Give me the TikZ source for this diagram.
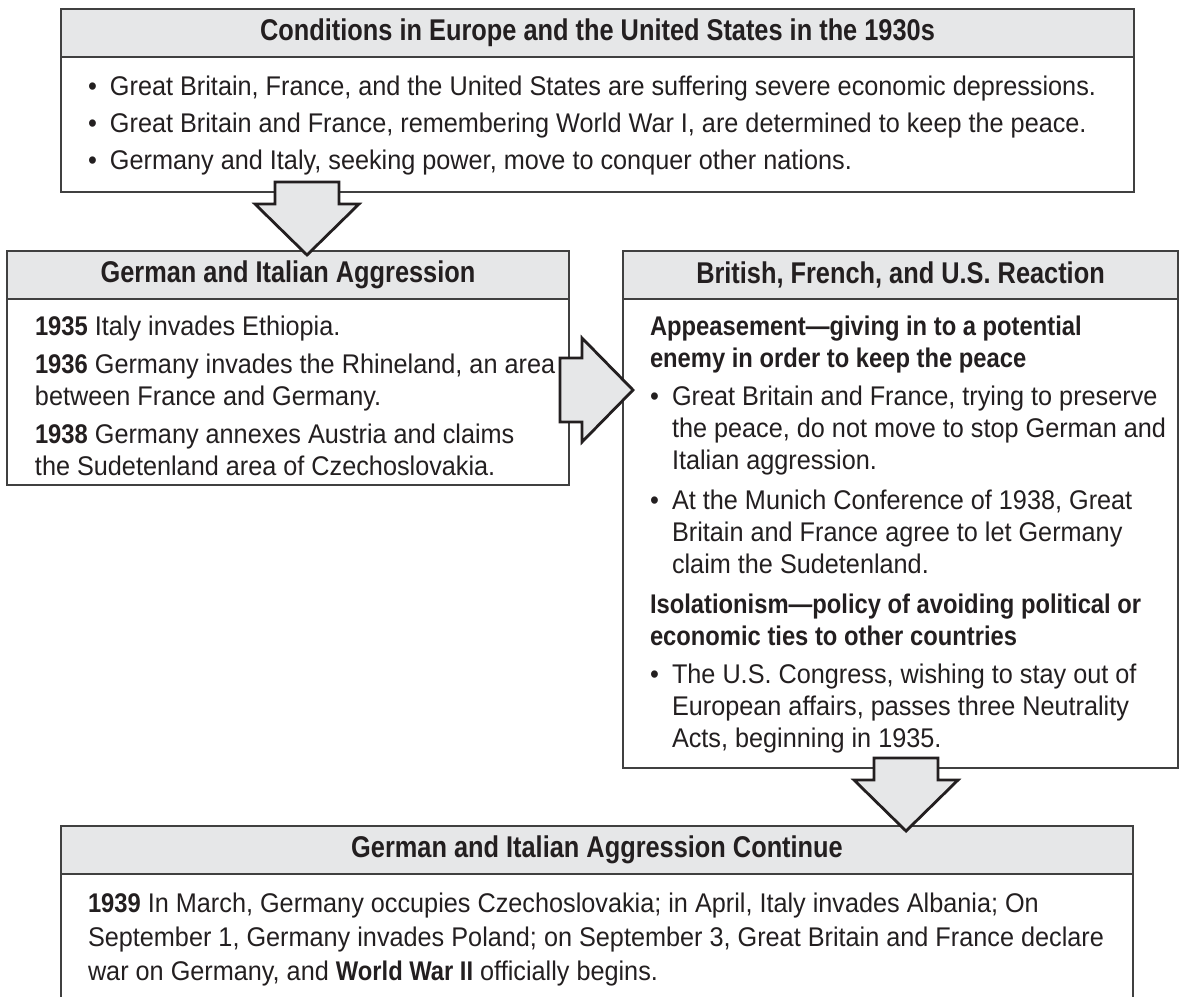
\documentclass[tikz,border=0pt]{standalone}
\usepackage{fontspec}
\setmainfont{Liberation Sans}[FakeStretch=0.935, BoldFeatures={FakeStretch=0.88}]
\newfontfamily\headfamily{Liberation Sans}[FakeStretch=0.845]
\usetikzlibrary{positioning}

\definecolor{headgray}{HTML}{E6E7E8}
\definecolor{linegray}{HTML}{404040}
\definecolor{inkblack}{HTML}{231F20}

\newcommand{\bodyfont}{\fontsize{13.5}{16}\selectfont}
\newcommand{\headfont}{\headfamily\fontsize{15}{17}\selectfont\bfseries}
\newcommand{\bulmark}{\makebox[11pt][l]{\textbullet}}
\newcommand{\bulind}{\hspace*{11pt}}

\begin{document}
\begin{tikzpicture}[
        x=0.5pt, y=0.5pt,
        every node/.style={inner sep=0pt, outer sep=0pt, text=inkblack},
        boxhead/.style={draw=linegray, line width=1pt, fill=headgray, minimum height=24pt, font=\headfont, anchor=north west},
        boxbody/.style={draw=linegray, line width=1pt, fill=white},
        boxtext/.style={align=left, font=\bodyfont},
        bigarrow/.pic={
            \draw[draw=inkblack, line width=1.4pt, fill=headgray, line join=miter]
                (0,32) -- (22,32) -- (22,52) -- (73,0) -- (22,-52) -- (22,-32) -- (0,-32) -- cycle;
        }
    ]
    \useasboundingbox (0,0) rectangle (1186,-997);

    % conditions in the 1930s
    \node[boxhead, minimum width=536.5pt] (condhead) at (61,-9)
        {Conditions in Europe and the United States in the 1930s};
    \node[boxbody, minimum width=536.5pt, minimum height=67.5pt, below=0pt of condhead] (condbody) {};
    \node[boxtext, below right=9.5pt and 13.5pt of condbody.north west] (condtext) {%
        \bulmark Great Britain, France, and the United States are suffering severe economic depressions.\\[2.5pt]
        \bulmark Great Britain and France, remembering World War I, are determined to keep the peace.\\[2.5pt]
        \bulmark Germany and Italy, seeking power, move to conquer other nations.};

    % aggression
    \node[boxhead, minimum width=281pt] (aggrhead) at (7,-251) {German and Italian Aggression};
    \node[boxbody, minimum width=281pt, minimum height=93pt, below=0pt of aggrhead] (aggrbody) {};
    \node[boxtext, below right=8.5pt and 14pt of aggrbody.north west] (aggrtext) {%
        \textbf{1935} Italy invades Ethiopia.\\[3pt]
        \textbf{1936} Germany invades the Rhineland, an area\\
        between France and Germany.\\[3pt]
        \textbf{1938} Germany annexes Austria and claims\\
        the Sudetenland area of Czechoslovakia.};

    % reaction
    \node[boxhead, minimum width=277.5pt] (reachead) at (623,-251) {British, French, and U.S. Reaction};
    \node[boxbody, minimum width=277.5pt, minimum height=234.5pt, below=0pt of reachead] (reacbody) {};
    \node[boxtext, below right=8.5pt and 13.5pt of reacbody.north west] (reactext) {%
        \textbf{Appeasement—giving in to a potential}\\
        \textbf{enemy in order to keep the peace}\\[3pt]
        \bulmark Great Britain and France, trying to preserve\\
        \bulind the peace, do not move to stop German and\\
        \bulind Italian aggression.\\[4pt]
        \bulmark At the Munich Conference of 1938, Great\\
        \bulind Britain and France agree to let Germany\\
        \bulind claim the Sudetenland.\\[4pt]
        \textbf{Isolationism—policy of avoiding political or}\\
        \textbf{economic ties to other countries}\\[3pt]
        \bulmark The U.S. Congress, wishing to stay out of\\
        \bulind European affairs, passes three Neutrality\\
        \bulind Acts, beginning in 1935.};

    % aggression continues (open at the bottom)
    \node[boxhead, minimum width=536pt] (conthead) at (61,-826) {German and Italian Aggression Continue};
    \draw[draw=linegray, line width=1pt] (conthead.south west) -- ++(0,-123);
    \draw[draw=linegray, line width=1pt] (conthead.south east) -- ++(0,-123);
    \node[boxtext, font=\fontsize{13.5}{17}\selectfont, below right=9.5pt and 13.5pt of conthead.south west] (conttext) {%
        \textbf{1939} In March, Germany occupies Czechoslovakia; in April, Italy invades Albania; On\\
        September 1, Germany invades Poland; on September 3, Great Britain and France declare\\
        war on Germany, and \textbf{World War II} officially begins.};

    % block arrows
    \pic[rotate=-90] at (307,-182) {bigarrow};
    \pic at (560,-390) {bigarrow};
    \pic[rotate=-90] at (906,-758) {bigarrow};
\end{tikzpicture}
\end{document}
